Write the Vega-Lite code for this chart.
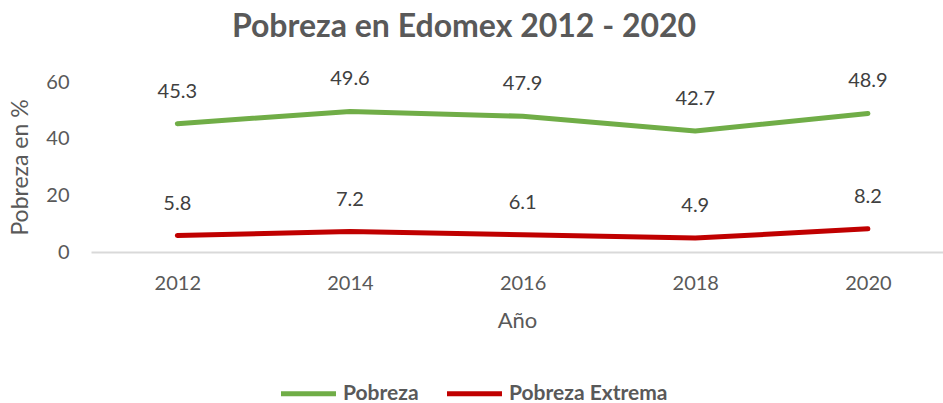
{
  "$schema": "https://vega.github.io/schema/vega-lite/v6.json",
  "width": 852,
  "height": 170,
  "autosize": "none",
  "padding": {"left": 91, "top": 82, "right": 0, "bottom": 151},
  "background": "white",
  "config": {
    "font": "Lato",
    "view": {"stroke": null}
  },
  "title": {
    "text": "Pobreza en Edomex 2012 - 2020",
    "fontSize": 32,
    "fontWeight": "bold",
    "color": "#595959",
    "font": "Lato",
    "anchor": "middle",
    "dx": -53,
    "offset": 25
  },
  "data": {
    "values": [
      {"year": 2012, "serie": "Pobreza", "valor": 45.3},
      {"year": 2014, "serie": "Pobreza", "valor": 49.6},
      {"year": 2016, "serie": "Pobreza", "valor": 47.9},
      {"year": 2018, "serie": "Pobreza", "valor": 42.7},
      {"year": 2020, "serie": "Pobreza", "valor": 48.9},
      {"year": 2012, "serie": "Pobreza Extrema", "valor": 5.8},
      {"year": 2014, "serie": "Pobreza Extrema", "valor": 7.2},
      {"year": 2016, "serie": "Pobreza Extrema", "valor": 6.1},
      {"year": 2018, "serie": "Pobreza Extrema", "valor": 4.9},
      {"year": 2020, "serie": "Pobreza Extrema", "valor": 8.2}
    ]
  },
  "encoding": {
    "x": {
      "field": "year",
      "type": "quantitative",
      "scale": {"domain": [2011, 2020.87], "nice": false, "zero": false},
      "axis": {
        "values": [2012, 2014, 2016, 2018, 2020],
        "format": "d",
        "title": "Año",
        "titleFont": "Lato",
        "titleFontSize": 22,
        "titleFontWeight": "normal",
        "titleColor": "#595959",
        "titlePadding": 17,
        "labelFont": "Lato",
        "labelFontSize": 20,
        "labelColor": "#595959",
        "labelPadding": 21,
        "ticks": false,
        "grid": false,
        "domainColor": "#D9D9D9",
        "domainWidth": 2,
        "labelFlush": false
      }
    },
    "y": {
      "field": "valor",
      "type": "quantitative",
      "scale": {"domain": [0, 60], "nice": false},
      "axis": {
        "values": [0, 20, 40, 60],
        "title": "Pobreza en %",
        "titleFont": "Lato",
        "titleFontSize": 23,
        "titleFontWeight": "normal",
        "titleColor": "#595959",
        "titlePadding": 13,
        "labelFont": "Lato",
        "labelFontSize": 20,
        "labelColor": "#595959",
        "labelPadding": 22,
        "ticks": false,
        "grid": false,
        "domain": false
      }
    },
    "color": {
      "field": "serie",
      "type": "nominal",
      "scale": {"domain": ["Pobreza", "Pobreza Extrema"], "range": ["#70AD47", "#C00000"]},
      "legend": {
        "orient": "none",
        "legendX": 201,
        "legendY": 295,
        "direction": "horizontal",
        "title": null,
        "symbolType": "M-2,0L2,0",
        "symbolSize": 756,
        "symbolStrokeWidth": 5,
        "symbolFillColor": "transparent",
        "labelFont": "Lato",
        "labelFontSize": 21,
        "labelFontWeight": "bold",
        "labelColor": "#595959",
        "labelOffset": 18,
        "labelLimit": 300,
        "columnPadding": 18
      }
    }
  },
  "layer": [
    {
      "mark": {"type": "line", "strokeWidth": 5, "strokeCap": "round", "strokeJoin": "round"}
    },
    {
      "mark": {"type": "text", "dy": -32, "fontSize": 20, "font": "Lato", "color": "#404040"},
      "encoding": {
        "text": {"field": "valor", "type": "quantitative", "format": ".1f"},
        "color": {"value": "#404040"}
      }
    }
  ]
}
